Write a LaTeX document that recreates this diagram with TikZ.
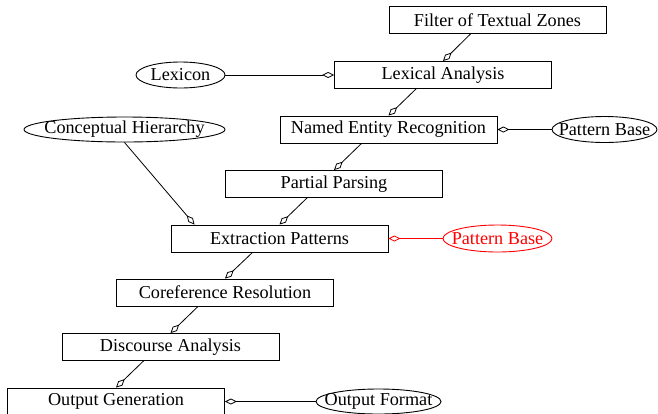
\documentclass[tikz,border=0pt]{standalone}
\usepackage{fontspec}
\setmainfont{Liberation Serif}
\usetikzlibrary{arrows.meta,calc,shapes.geometric}
\begin{document}
\begin{tikzpicture}[x=1pt,y=-1pt,
  every node/.style={font=\fontsize{18.2}{20}\selectfont},
  stage/.style={draw,line width=0.9pt,rectangle,minimum width=217pt,minimum height=27pt,inner sep=0pt},
  res/.style={draw,line width=0.9pt,ellipse,inner xsep=-60pt,inner ysep=-12pt},
  link/.style={line width=0.8pt,-{Diamond[open,length=12pt,width=6pt]}}]
\useasboundingbox (0,0) rectangle (658,413);
\node[stage] (filter) at (497.5,20) {Filter of Textual Zones};
\node[stage] (lex) at (443,75) {Lexical Analysis};
\node[stage] (ner) at (388.5,129.5) {Named Entity Recognition};
\node[stage] (pp) at (334,184) {Partial Parsing};
\node[stage] (ep) at (279.5,238.5) {Extraction Patterns};
\node[stage] (cr) at (225,292.5) {Coreference Resolution};
\node[stage] (da) at (170.5,347) {Discourse Analysis};
\node[stage] (og) at (116,401.5) {Output Generation};
\node[res,minimum width=89pt,minimum height=26pt] (lexicon) at (180.5,75) {Lexicon};
\node[res,minimum width=201pt,minimum height=25pt] (concept) at (124.5,129.5) {Conceptual Hierarchy};
\node[res,minimum width=105pt,minimum height=26pt] (pb1) at (604.5,129.5) {Pattern Base};
\node[res,red,text=red,minimum width=109pt,minimum height=27pt] (pb2) at (497.5,238.5) {Pattern Base};
\node[res,minimum width=125pt,minimum height=25pt] (of) at (378.5,401.5) {Output Format};
\foreach \a/\b in {filter/lex,lex/ner,ner/pp,pp/ep,ep/cr,cr/da,da/og}
  \draw[link] ($(\a.south)+(-27,0)$) -- (\b.north);
\draw[link] (concept.south) -- ($(ep.north west)+(24,0)$);
\draw[link] (lexicon.east) -- (lex.west);
\draw[link] (pb1.west) -- (ner.east);
\draw[link,red] (pb2.west) -- (ep.east);
\draw[link] (of.west) -- (og.east);
\end{tikzpicture}
\end{document}
